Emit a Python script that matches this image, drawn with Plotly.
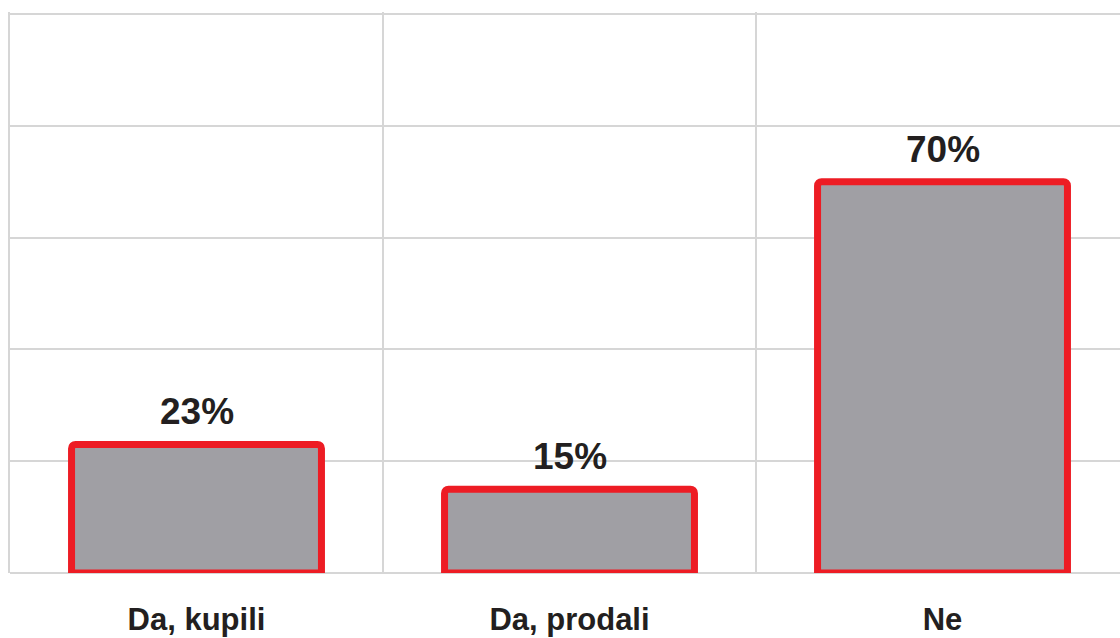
import plotly.graph_objects as go

categories = ["Da, kupili", "Da, prodali", "Ne"]
values = [23, 15, 70]
labels = ["23%", "15%", "70%"]

GRID = "#d6d6d6"
TEXT = "#231f20"
FONT = "Liberation Sans, Arial, sans-serif"

fig = go.Figure(
    go.Bar(
        x=categories,
        y=values,
        marker=dict(color="#a09fa4", line=dict(color="#ed1c24", width=7)),
        width=0.67,
        hoverinfo="skip",
    )
)

for c, v, t in zip(categories, values, labels):
    fig.add_annotation(
        x=c, y=v, text=t, showarrow=False, yanchor="bottom", yshift=10,
        font=dict(family=FONT, size=37, color=TEXT, weight="bold"),
    )

W, H = 1120, 638
cat_px = 373.0
left = 10
plot_w = W - left
x_min = -0.5
x_max = x_min + plot_w / cat_px

fig.update_layout(
    width=W,
    height=H,
    margin=dict(l=left, r=0, t=12, b=65, pad=0, autoexpand=False),
    paper_bgcolor="white",
    plot_bgcolor="white",
    showlegend=False,
    barcornerradius=4,
    xaxis=dict(
        type="category",
        range=[x_min, x_max],
        tickson="boundaries",
        showgrid=True,
        gridcolor=GRID,
        gridwidth=2,
        ticks="",
        showline=False,
        zeroline=False,
        automargin=False,
        ticklabelstandoff=25,
        tickfont=dict(family=FONT, size=31, color=TEXT, weight="bold"),
    ),
    yaxis=dict(
        range=[0, 100.35],
        tickvals=[0, 20, 40, 60, 80, 100],
        showgrid=True,
        gridcolor=GRID,
        gridwidth=2,
        zeroline=True,
        zerolinecolor=GRID,
        zerolinewidth=2,
        showticklabels=False,
        ticks="",
        showline=True,
        linecolor=GRID,
        linewidth=2,
        automargin=False,
    ),
)

fig.write_html("out.html")
